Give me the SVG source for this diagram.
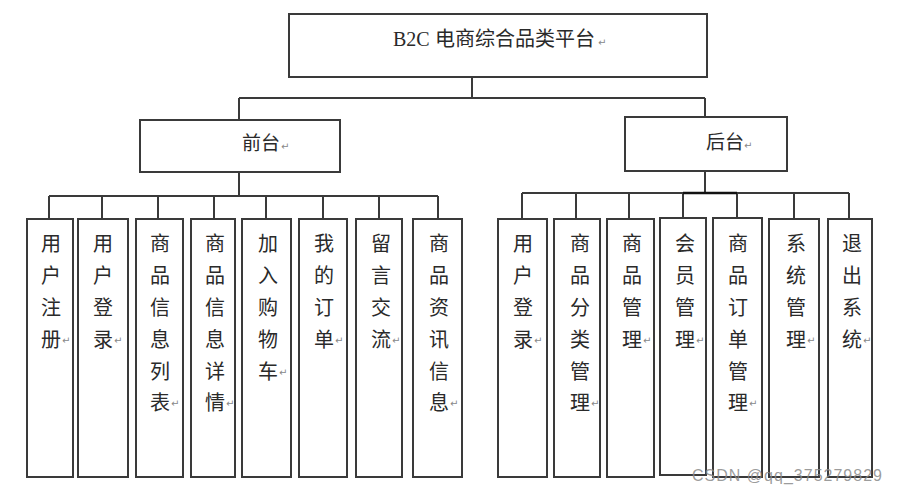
<svg xmlns="http://www.w3.org/2000/svg" width="898" height="495" viewBox="0 0 898 495">
<style>
.box{fill:#fff;stroke:#3a3a3a;stroke-width:2}
.con{fill:none;stroke:#3a3a3a;stroke-width:2}
.t{font-family:"Noto Sans CJK SC","Liberation Sans",sans-serif;font-size:19px;fill:#2a2a2a}
.v{font-family:"Noto Sans CJK SC","Liberation Sans",sans-serif;font-size:20px;fill:#2a2a2a;text-anchor:middle;dominant-baseline:central}
.r{font-family:"DejaVu Sans",sans-serif;font-size:10px;fill:#888;dominant-baseline:central}
.wm{font-family:"Liberation Sans",sans-serif;font-size:16px;fill:#8a8a8a;fill-opacity:0.85}
</style>
<rect width="898" height="495" fill="#fff"/>
<g id="connectors">
<path class="con" d="M472 77V98M239 98H705M239 98V120M705 98V117"/>
<path class="con" d="M239 172V196M49 196H438M49 196V219M102 196V219M158 196V219M214 196V219M266 196V219M323 196V219M379 196V219M438 196V219"/>
<path class="con" d="M705 171V193M522 193H849M522 193V219M576 193V219M629 193V219M683 193V218M737 193V218M794 193V219M849 193V219"/>
<path class="con" d="M683 193H737" style="stroke:#111;stroke-width:2.6px"/>
</g>
<g id="root">
<rect class="box" x="289" y="14" width="418" height="63"/>
<text class="t" x="393" y="46" style="font-size:20px"><tspan style="font-family:'Liberation Serif',serif">B2C</tspan><tspan x="435">电商综合品类平台</tspan></text>
<text class="r" x="598" y="42">↵</text>
</g>
<g id="front">
<rect class="box" x="140" y="120" width="200" height="52"/>
<text class="t" x="242" y="150">前台</text>
<text class="r" x="281" y="146">↵</text>
</g>
<g id="back">
<rect class="box" x="625" y="117" width="162" height="54"/>
<text class="t" x="706" y="149">后台</text>
<text class="r" x="744" y="145">↵</text>
</g>
<g id="f1"><rect class="box" x="27" y="219" width="46" height="258"/><text class="v"><tspan x="51" y="242">用</tspan><tspan x="51" y="274">户</tspan><tspan x="51" y="306">注</tspan><tspan x="51" y="338">册</tspan></text><text class="r" x="62" y="340">↵</text></g>
<g id="f2"><rect class="box" x="78" y="219" width="50" height="258"/><text class="v"><tspan x="103" y="242">用</tspan><tspan x="103" y="274">户</tspan><tspan x="103" y="306">登</tspan><tspan x="103" y="338">录</tspan></text><text class="r" x="114" y="340">↵</text></g>
<g id="f3"><rect class="box" x="136" y="219" width="47" height="258"/><text class="v"><tspan x="160" y="242">商</tspan><tspan x="160" y="274">品</tspan><tspan x="160" y="306">信</tspan><tspan x="160" y="338">息</tspan><tspan x="160" y="370">列</tspan><tspan x="160" y="401">表</tspan></text><text class="r" x="171" y="403">↵</text></g>
<g id="f4"><rect class="box" x="191" y="219" width="44" height="258"/><text class="v"><tspan x="215" y="242">商</tspan><tspan x="215" y="274">品</tspan><tspan x="215" y="306">信</tspan><tspan x="215" y="338">息</tspan><tspan x="215" y="370">详</tspan><tspan x="215" y="401">情</tspan></text><text class="r" x="226" y="403">↵</text></g>
<g id="f5"><rect class="box" x="242" y="219" width="49" height="258"/><text class="v"><tspan x="268" y="242">加</tspan><tspan x="268" y="274">入</tspan><tspan x="268" y="306">购</tspan><tspan x="268" y="338">物</tspan><tspan x="268" y="370">车</tspan></text><text class="r" x="279" y="372">↵</text></g>
<g id="f6"><rect class="box" x="299" y="219" width="48" height="258"/><text class="v"><tspan x="324" y="242">我</tspan><tspan x="324" y="274">的</tspan><tspan x="324" y="306">订</tspan><tspan x="324" y="338">单</tspan></text><text class="r" x="335" y="340">↵</text></g>
<g id="f7"><rect class="box" x="356" y="219" width="46" height="258"/><text class="v"><tspan x="381" y="242">留</tspan><tspan x="381" y="274">言</tspan><tspan x="381" y="306">交</tspan><tspan x="381" y="338">流</tspan></text><text class="r" x="392" y="340">↵</text></g>
<g id="f8"><rect class="box" x="413" y="219" width="49" height="258"/><text class="v"><tspan x="439" y="242">商</tspan><tspan x="439" y="274">品</tspan><tspan x="439" y="306">资</tspan><tspan x="439" y="338">讯</tspan><tspan x="439" y="370">信</tspan><tspan x="439" y="401">息</tspan></text><text class="r" x="450" y="403">↵</text></g>
<g id="b1"><rect class="box" x="498" y="219" width="49" height="258"/><text class="v"><tspan x="523" y="242">用</tspan><tspan x="523" y="274">户</tspan><tspan x="523" y="306">登</tspan><tspan x="523" y="338">录</tspan></text><text class="r" x="534" y="340">↵</text></g>
<g id="b2"><rect class="box" x="554" y="219" width="46" height="258"/><text class="v"><tspan x="580" y="242">商</tspan><tspan x="580" y="274">品</tspan><tspan x="580" y="306">分</tspan><tspan x="580" y="338">类</tspan><tspan x="580" y="370">管</tspan><tspan x="580" y="401">理</tspan></text><text class="r" x="591" y="403">↵</text></g>
<g id="b3"><rect class="box" x="607" y="219" width="47" height="258"/><text class="v"><tspan x="632" y="242">商</tspan><tspan x="632" y="274">品</tspan><tspan x="632" y="306">管</tspan><tspan x="632" y="338">理</tspan></text><text class="r" x="643" y="340">↵</text></g>
<g id="b4"><rect class="box" x="660" y="218" width="46" height="257"/><text class="v"><tspan x="685" y="242">会</tspan><tspan x="685" y="274">员</tspan><tspan x="685" y="306">管</tspan><tspan x="685" y="338">理</tspan></text><text class="r" x="696" y="340">↵</text></g>
<g id="b5"><rect class="box" x="713" y="218" width="49" height="259"/><text class="v"><tspan x="738" y="242">商</tspan><tspan x="738" y="274">品</tspan><tspan x="738" y="306">订</tspan><tspan x="738" y="338">单</tspan><tspan x="738" y="370">管</tspan><tspan x="738" y="401">理</tspan></text><text class="r" x="749" y="403">↵</text></g>
<g id="b6"><rect class="box" x="769" y="219" width="50" height="258"/><text class="v"><tspan x="796" y="242">系</tspan><tspan x="796" y="274">统</tspan><tspan x="796" y="306">管</tspan><tspan x="796" y="338">理</tspan></text><text class="r" x="807" y="340">↵</text></g>
<g id="b7"><rect class="box" x="828" y="219" width="44" height="258"/><text class="v"><tspan x="852" y="242">退</tspan><tspan x="852" y="274">出</tspan><tspan x="852" y="306">系</tspan><tspan x="852" y="338">统</tspan></text><text class="r" x="863" y="340">↵</text></g>
<text class="wm" x="692" y="481" textLength="190">CSDN @qq_375279829</text>
</svg>
